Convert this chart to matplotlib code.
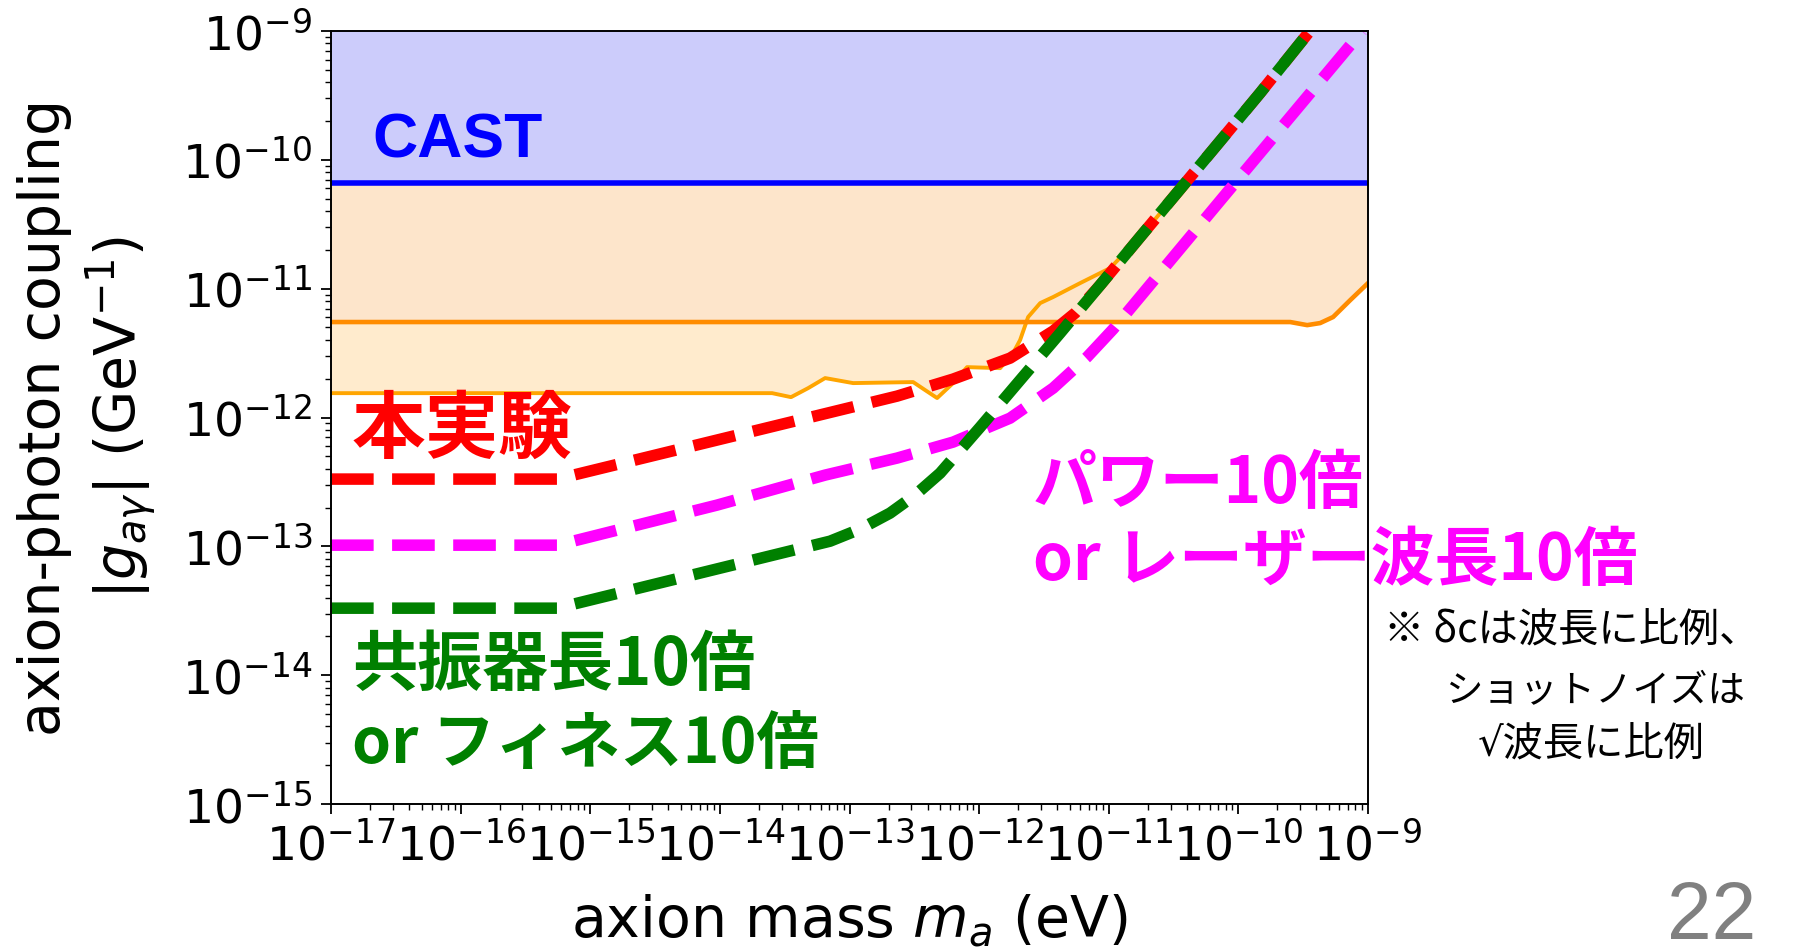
import numpy as np
import matplotlib
matplotlib.use("Agg")
import matplotlib.pyplot as plt
from matplotlib.ticker import LogLocator, NullFormatter

# ---- data: log10(axion mass / eV) and log10(|g_ay| / GeV^-1) ----
# present experiment
this_logm = [-17.0, -15.256, -12.633, -12.201, -11.761, -11.429, -11.259,
             -11.066, -10.758, -10.449, -10.140, -9.832, -9.461]
this_logg = [-12.478, -12.478, -11.834, -11.702, -11.539, -11.329, -11.189,
             -10.972, -10.599, -10.227, -9.854, -9.481, -9.016]

# power x10 or laser wavelength x10
power_logm = [-17.0, -15.256, -14.022, -13.188, -12.633, -12.201, -11.761,
              -11.429, -11.167, -10.966, -10.117, -9.045]
power_logg = [-12.991, -12.991, -12.680, -12.447, -12.315, -12.191, -12.005,
              -11.772, -11.531, -11.314, -10.289, -9.000]

# cavity length x10 or finesse x10
cavity_logm = [-17.0, -15.256, -13.150, -12.918, -12.687, -12.494, -12.301,
               -11.992, -11.684, -11.375, -11.066, -10.758, -10.449, -10.140,
               -9.832, -9.461]
cavity_logg = [-13.480, -13.480, -12.960, -12.866, -12.742, -12.602, -12.432,
               -12.075, -11.710, -11.345, -10.972, -10.599, -10.227, -9.854,
               -9.481, -9.016]

# existing bounds
cast_g = 6.6e-11
upper_logm = [-17.0, -9.600, -9.469, -9.369, -9.269, -9.137, -9.0]
upper_logg = [-11.259, -11.259, -11.283, -11.267, -11.220, -11.089, -10.957]
lower_logm = [-17.0, -13.597, -13.451, -13.319, -13.188, -12.972, -12.509,
              -12.417, -12.324, -12.201, -12.093, -11.838, -11.738, -11.684,
              -11.622, -11.529, -11.429, -11.221, -10.989, -10.758, -10.395]
lower_logg = [-11.811, -11.811, -11.842, -11.772, -11.694, -11.733, -11.725,
              -11.787, -11.849, -11.733, -11.609, -11.617, -11.500, -11.399,
              -11.220, -11.112, -11.065, -10.957, -10.840, -10.599, -10.165]

xlim = (1e-17, 1e-9)
ylim = (1e-15, 1e-9)


def pw(a):
    return 10.0 ** np.asarray(a)


W, H = 1796, 947
fig = plt.figure(figsize=(W / 100, H / 100), dpi=100)
fig.patch.set_facecolor("white")
ax = fig.add_axes([331 / W, 1 - 804 / H, (1368 - 331) / W, (804 - 31) / H])
ax.set_xscale("log")
ax.set_yscale("log")

# excluded regions
ax.fill_between(pw(lower_logm), pw(lower_logg), ylim[1],
                color="#ffebcd", lw=0, zorder=1.0)
ax.fill_between(pw(upper_logm), pw(upper_logg), ylim[1],
                color="#fde5cb", lw=0, zorder=1.1)
ax.fill_between(xlim, [cast_g, cast_g], ylim[1],
                color="#ccccfb", lw=0, zorder=1.2)
ax.plot(pw(lower_logm), pw(lower_logg), color="orange", lw=2.8, zorder=1.5)
ax.plot(pw(upper_logm), pw(upper_logg), color="darkorange", lw=3.3, zorder=1.6)
ax.axhline(cast_g, color="blue", lw=4, zorder=1.7)

# sensitivity curves
ax.plot(pw(this_logm), pw(this_logg), color="red", lw=8.3, ls="--", zorder=2.1)
ax.plot(pw(power_logm), pw(power_logg), color="magenta", lw=8.3, ls="--", zorder=2.2)
ax.plot(pw(cavity_logm), pw(cavity_logg), color="green", lw=8.3, ls="--", zorder=2.3)

ax.set_xlim(*xlim)
ax.set_ylim(*ylim)

for axis in (ax.xaxis, ax.yaxis):
    axis.set_major_locator(LogLocator(base=10, numticks=30))
    axis.set_minor_locator(LogLocator(base=10, subs=np.arange(2, 10), numticks=200))
    axis.set_minor_formatter(NullFormatter())
ax.tick_params(which="major", length=7.5, width=1.3, labelsize=34, pad=6)
ax.tick_params(which="minor", length=4.5, width=1.0)
for sp in ax.spines.values():
    sp.set_linewidth(1.4)

ax.set_xlabel("axion mass $m_a$ (eV)", fontsize=41)
ax.xaxis.set_label_coords(0.5, (804 - 921) / 773)
ax.xaxis.label.set_va("center")
ax.set_ylabel("axion-photon coupling\n$|g_{a\\gamma}|$ (GeV$^{-1}$)", fontsize=41)
ax.yaxis.set_label_coords((88 - 331) / 1037, 0.5)
ax.yaxis.label.set_va("center")

cjk = ["Noto Sans CJK JP", "DejaVu Sans"]
latin_first = ["DejaVu Sans", "Noto Sans CJK JP"]


def ftext(x, y, s, **kw):
    ax.text(x / W, 1 - y / H, s, transform=fig.transFigure, va="baseline",
            clip_on=False, zorder=2.45, **kw)


ftext(372, 157, "CAST", color="blue", fontsize=45, fontweight="bold",
      family=["Liberation Sans", "DejaVu Sans"])
ftext(352, 452, "本実験", color="red", fontsize=53, fontweight="bold", family=cjk)
ftext(352, 685, "共振器長10倍", color="green", fontsize=47, fontweight="bold", family=cjk)
ftext(352, 763, "or フィネス10倍", color="green", fontsize=45, fontweight="bold", family=cjk)
ftext(1033, 503, "パワー10倍", color="magenta", fontsize=46, fontweight="bold", family=cjk)
ftext(1033, 580, "or レーザー波長10倍", color="magenta", fontsize=46, fontweight="bold", family=cjk)
ftext(1384, 643, "※ δcは波長に比例、", color="black", fontsize=29, family=cjk)
ftext(1445, 702, "ショットノイズは", color="black", fontsize=27, family=cjk)
ftext(1478, 757, "√波長に比例", color="black", fontsize=29, family=latin_first)
ftext(1756, 939, "22", color="#808080", fontsize=58, ha="right",
      family=["Liberation Sans", "DejaVu Sans"])

fig.savefig("out.png", dpi=100, facecolor="white")
